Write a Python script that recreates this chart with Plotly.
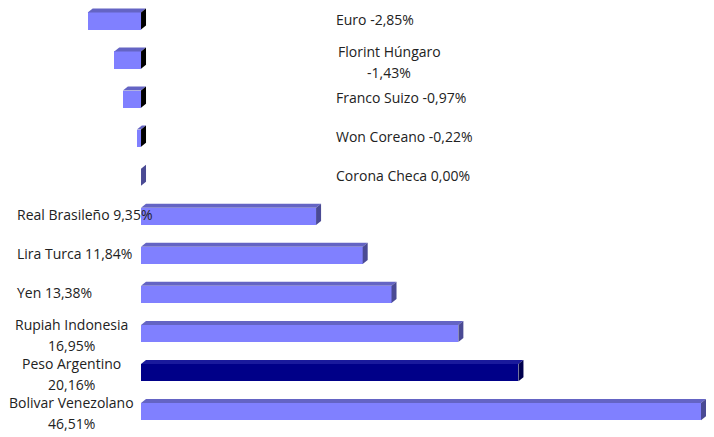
"""Variación de monedas: barras horizontales con efecto 3D."""

import plotly.graph_objects as go

monedas = [
    "Euro", "Florint Húngaro", "Franco Suizo", "Won Coreano", "Corona Checa",
    "Real Brasileño", "Lira Turca", "Yen", "Rupiah Indonesia", "Peso Argentino",
    "Bolivar Venezolano",
]
variacion = [-2.85, -1.43, -0.97, -0.22, 0.00, 9.35, 11.84, 13.38, 16.95, 20.16, 46.51]
destacada = "Peso Argentino"
dos_lineas = ["Florint Húngaro", "Rupiah Indonesia", "Peso Argentino", "Bolivar Venezolano"]

# the page body keeps its default 8px margin, so the figure is a bit smaller
W, H = 706, 429
M = dict(l=0, r=13, t=0, b=0)
X_RANGE = [-7.105, 29.91]
Y_RANGE = [10.65, -0.333]
BAR_W = 0.44
DEPTH_PX = (5, 4)

FRONT, TOP, SIDE, SIDE_NEG = "#8080ff", "#6464c4", "#4a4a94", "#000000"
FRONT_HL, TOP_HL, SIDE_HL = "#000088", "#1a1a9c", "#00004e"

plot_w = W - M["l"] - M["r"]
plot_h = H - M["t"] - M["b"]


def px(x):
    """Data x -> paper x."""
    return (x - X_RANGE[0]) / (X_RANGE[1] - X_RANGE[0])


def py(i):
    """Category position (index, may be fractional) -> paper y (reversed axis)."""
    return (Y_RANGE[0] - i) / (Y_RANGE[0] - Y_RANGE[1])


def fmt(v):
    return f"{v:.2f}".replace(".", ",") + "%"


fig = go.Figure()
fig.add_trace(
    go.Bar(
        y=monedas, x=variacion, orientation="h", width=BAR_W,
        marker={"color": [FRONT_HL if m == destacada else FRONT for m in monedas],
                "line": {"width": 0}},
        hoverinfo="skip",
    )
)

dx = DEPTH_PX[0] / plot_w
dy = DEPTH_PX[1] / plot_h
shapes = []
for i, (m, v) in enumerate(zip(monedas, variacion)):
    left = px(min(v, 0))
    right = px(min(max(v, 0), X_RANGE[1]))
    yt = py(i - BAR_W / 2)
    yb = py(i + BAR_W / 2)
    hl = m == destacada
    top_col = TOP_HL if hl else TOP
    side_col = SIDE_HL if hl else (SIDE_NEG if v < 0 else SIDE)
    if right > left:
        shapes.append(dict(
            type="path", xref="paper", yref="paper", line={"width": 0},
            fillcolor=top_col,
            path=f"M{left},{yt} L{left+dx},{yt+dy} L{right+dx},{yt+dy} L{right},{yt} Z",
        ))
    shapes.append(dict(
        type="path", xref="paper", yref="paper", line={"width": 0},
        fillcolor=side_col,
        path=f"M{right},{yt} L{right+dx},{yt+dy} L{right+dx},{yb+dy} L{right},{yb} Z",
    ))

font = {"family": "Open Sans", "size": 14, "color": "#222222"}
annotations = []
for m, v in zip(monedas, variacion):
    # negative changes are labelled on the right, positive ones on the left
    if m in dos_lineas:
        x_mid = -3.74 if v > 0 else 13.25
        annotations.append(dict(x=x_mid, y=m, text=m, xanchor="center", showarrow=False,
                                font=font, yshift=9))
        annotations.append(dict(x=x_mid, y=m, text=fmt(v), xanchor="center", showarrow=False,
                                font=font, yshift=-12))
    else:
        x_lab = -6.73 if v > 0 else 10.31
        annotations.append(dict(x=x_lab, y=m, text=f"{m} {fmt(v)}", xanchor="left",
                                showarrow=False, font=font, yshift=2))

fig.update_layout(
    width=W, height=H, margin=M,
    paper_bgcolor="white", plot_bgcolor="white",
    showlegend=False, bargap=0,
    shapes=shapes, annotations=annotations,
)
fig.update_xaxes(range=X_RANGE, visible=False, showgrid=False, zeroline=False)
fig.update_yaxes(range=Y_RANGE, visible=False, showgrid=False,
                 categoryorder="array", categoryarray=monedas)

fig.write_html("out.html")
